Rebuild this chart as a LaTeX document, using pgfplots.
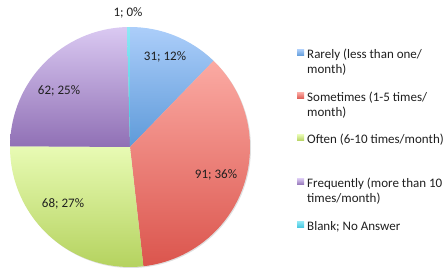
\documentclass[border=0pt]{standalone}
\usepackage{fontspec}
\setmainfont{Carlito}
\usepackage{pgfplots}
\usepackage{pgfplotstable}
\pgfplotsset{compat=1.18}

\definecolor{bluT}{HTML}{ACCEFA}
\definecolor{bluB}{HTML}{5E9AD9}
\definecolor{redT}{HTML}{FBAAA3}
\definecolor{redB}{HTML}{DB554D}
\definecolor{grnT}{HTML}{E8FBB4}
\definecolor{grnB}{HTML}{B3D15C}
\definecolor{purT}{HTML}{DAC9F2}
\definecolor{purB}{HTML}{9070B5}
\definecolor{cyaT}{HTML}{8FE8F5}
\definecolor{cyaB}{HTML}{3FC3DD}
\definecolor{txt}{HTML}{1F1F1F}

\pgfplotstableread{
value label
31 Rarely
91 Sometimes
68 Often
62 Frequently
1 Blank
}\piedata

\pgfplotstablegetelem{0}{value}\of\piedata \edef\vA{\pgfplotsretval}
\pgfplotstablegetelem{1}{value}\of\piedata \edef\vB{\pgfplotsretval}
\pgfplotstablegetelem{2}{value}\of\piedata \edef\vC{\pgfplotsretval}
\pgfplotstablegetelem{3}{value}\of\piedata \edef\vD{\pgfplotsretval}
\pgfplotstablegetelem{4}{value}\of\piedata \edef\vE{\pgfplotsretval}
\pgfmathsetmacro\total{\vA+\vB+\vC+\vD+\vE}
\pgfmathsetmacro\aA{90-\vA/\total*360}
\pgfmathsetmacro\aB{\aA-\vB/\total*360}
\pgfmathsetmacro\aC{\aB-\vC/\total*360}
\pgfmathsetmacro\aD{\aC-\vD/\total*360}
\pgfmathsetmacro\aE{\aD-\vE/\total*360}
\def\cx{130}\def\cy{121}\def\R{120bp}

\begin{document}
\begin{tikzpicture}
\begin{axis}[
  width=448bp, height=268bp, scale only axis,
  xmin=0, xmax=448, ymin=0, ymax=268,
  hide axis, clip=false,
]
% soft shadow
\fill[black!12] (axis cs:131,120) circle[radius=120bp];
\shade[top color=bluT, bottom color=bluB] (axis cs:\cx,\cy) -- ++(90:\R) arc[start angle=90, end angle=\aA, radius=\R] -- cycle;
\shade[top color=redT, bottom color=redB] (axis cs:\cx,\cy) -- ++(\aA:\R) arc[start angle=\aA, end angle=\aB, radius=\R] -- cycle;
\shade[top color=grnT, bottom color=grnB] (axis cs:\cx,\cy) -- ++(\aB:\R) arc[start angle=\aB, end angle=\aC, radius=\R] -- cycle;
\shade[top color=purT, bottom color=purB] (axis cs:\cx,\cy) -- ++(\aC:\R) arc[start angle=\aC, end angle=\aD, radius=\R] -- cycle;
\shade[top color=cyaT, bottom color=cyaB] (axis cs:\cx,\cy) -- ++(\aD:\R) arc[start angle=\aD, end angle=\aE, radius=\R] -- cycle;

\begin{scope}[every node/.style={font=\fontsize{13bp}{15.5bp}\selectfont, text=txt, inner sep=0pt}]
\node at (axis cs:165,211) {31; 12\%};
\node at (axis cs:216,93) {91; 36\%};
\node at (axis cs:63,64) {68; 27\%};
\node at (axis cs:59,177) {62; 25\%};
\node at (axis cs:128,255) {1; 0\%};

\node[anchor=base west, align=left] at (axis cs:307,194) {Rarely (less than one/\\month)};
\node[anchor=base west, align=left] at (axis cs:307,151) {Sometimes (1-5 times/\\month)};
\node[anchor=base west, align=left] at (axis cs:307,124.5) {Often (6-10 times/month)};
\node[anchor=base west, align=left] at (axis cs:307,65) {Frequently (more than 10\\times/month)};
\node[anchor=base west, align=left] at (axis cs:307,37.5) {Blank; No Answer};
\end{scope}
\shade[top color=bluT, bottom color=bluB] (axis cs:297,212) rectangle (axis cs:304,218.5);
\shade[top color=redT, bottom color=redB] (axis cs:297,169) rectangle (axis cs:304,175.5);
\shade[top color=grnT, bottom color=grnB] (axis cs:297,127) rectangle (axis cs:304,133.5);
\shade[top color=purT, bottom color=purB] (axis cs:297,83) rectangle (axis cs:304,89.5);
\shade[top color=cyaT, bottom color=cyaB] (axis cs:297,40) rectangle (axis cs:304,46.5);
\end{axis}
\pgfresetboundingbox
\useasboundingbox (0,0) rectangle (448bp,268bp);
\end{tikzpicture}
\end{document}
